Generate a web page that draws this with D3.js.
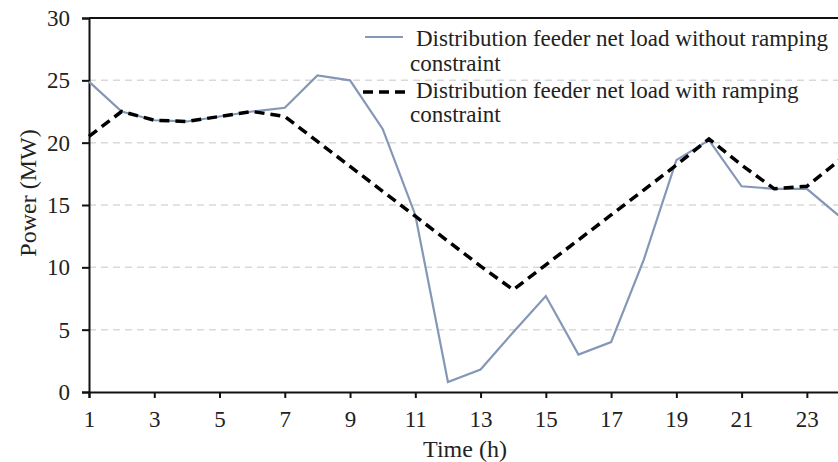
<!DOCTYPE html>
<html>
<head>
<meta charset="utf-8">
<script src="https://cdn.jsdelivr.net/npm/d3@7"></script>
<style>
  body { margin: 0; background: #fff; }
  svg { display: block; font-family: "Liberation Serif", "Times New Roman", serif; }
</style>
</head>
<body>
<svg width="838" height="462"></svg>
<script>
// hours 1..24
var hours = d3.range(1, 25);
var withoutRamp = [24.9, 22.5, 21.8, 21.7, 22.1, 22.5, 22.8, 25.4, 25.0, 21.1, 14.2, 0.8,
                   1.8, 4.8, 7.7, 3.0, 4.0, 10.6, 18.6, 20.2, 16.5, 16.3, 16.3, 14.1];
var withRamp = [20.5, 22.5, 21.8, 21.7, 22.1, 22.5, 22.1, 20.1, 18.1, 16.1, 14.1, 12.1,
                10.1, 8.2, 10.2, 12.2, 14.2, 16.2, 18.2, 20.3, 18.2, 16.3, 16.5, 18.6];
var xTicks = [1, 3, 5, 7, 9, 11, 13, 15, 17, 19, 21, 23];
var yTicks = [0, 5, 10, 15, 20, 25, 30];
var legendLabels = [
    ["Distribution feeder net load without ramping", "constraint"],
    ["Distribution feeder net load with ramping", "constraint"]
];

var svg = d3.select("svg"),
    margin = {top: 18, left: 89, bottom: 70},
    width = +svg.attr("width"),
    height = +svg.attr("height");

var x = d3.scaleLinear().domain([1, 24]).range([margin.left, 839.5]);
var y = d3.scaleLinear().domain([0, 30]).range([height - margin.bottom, margin.top]);

// dashed grid
svg.append("g")
    .selectAll("line")
    .data(yTicks.filter(function(d) { return d > 0 && d < 30; }))
    .enter().append("line")
    .attr("x1", margin.left).attr("x2", width)
    .attr("y1", function(d) { return y(d); })
    .attr("y2", function(d) { return y(d); })
    .attr("stroke", "#d9d9d9")
    .attr("stroke-width", 1.5)
    .attr("stroke-dasharray", "7,5");

// top border
svg.append("line")
    .attr("x1", margin.left).attr("x2", width)
    .attr("y1", y(30)).attr("y2", y(30))
    .attr("stroke", "#111").attr("stroke-width", 2);

var yAxis = svg.append("g")
    .attr("transform", "translate(" + margin.left + ",0)")
    .call(d3.axisLeft(y).tickValues(yTicks).tickSize(7).tickPadding(12));

var xAxis = svg.append("g")
    .attr("transform", "translate(0," + y(0) + ")")
    .call(d3.axisBottom(x).tickValues(xTicks).tickSize(6).tickPadding(13));

[xAxis, yAxis].forEach(function(a) {
    a.select(".domain").attr("stroke", "#111").attr("stroke-width", 2);
    a.selectAll(".tick line").attr("stroke", "#111").attr("stroke-width", 2);
    a.selectAll(".tick text")
        .attr("font-family", "Liberation Serif")
        .attr("font-size", 23)
        .attr("fill", "#222");
});

var line = d3.line()
    .x(function(d, i) { return x(hours[i]); })
    .y(function(d) { return y(d); });

svg.append("path")
    .datum(withoutRamp)
    .attr("d", line)
    .attr("fill", "none")
    .attr("stroke", "#8497b6")
    .attr("stroke-width", 2.2);

svg.append("path")
    .datum(withRamp)
    .attr("d", line)
    .attr("fill", "none")
    .attr("stroke", "#000")
    .attr("stroke-width", 3.5)
    .attr("stroke-dasharray", "10,6");

// axis titles
svg.append("text")
    .attr("transform", "translate(36,193) rotate(-90)")
    .attr("text-anchor", "middle")
    .attr("font-size", 24)
    .attr("fill", "#222")
    .text("Power (MW)");

svg.append("text")
    .attr("x", 465).attr("y", 457)
    .attr("text-anchor", "middle")
    .attr("font-size", 24)
    .attr("fill", "#222")
    .text("Time (h)");

// legend
var legend = svg.append("g");
var legendY = [37, 92];
var textY = [[46, 71], [98, 122]];
legend.append("line")
    .attr("x1", 365).attr("x2", 403)
    .attr("y1", legendY[0]).attr("y2", legendY[0])
    .attr("stroke", "#8497b6").attr("stroke-width", 2.2);
legend.append("line")
    .attr("x1", 363).attr("x2", 407)
    .attr("y1", legendY[1]).attr("y2", legendY[1])
    .attr("stroke", "#000").attr("stroke-width", 3.5)
    .attr("stroke-dasharray", "10,6");

legendLabels.forEach(function(lines, i) {
    var t = legend.append("text")
        .attr("font-size", 23)
        .attr("fill", "#222");
    t.append("tspan").attr("x", 416).attr("y", textY[i][0]).text(lines[0]);
    t.append("tspan").attr("x", 410).attr("y", textY[i][1]).text(lines[1]);
});
</script>
</body>
</html>
